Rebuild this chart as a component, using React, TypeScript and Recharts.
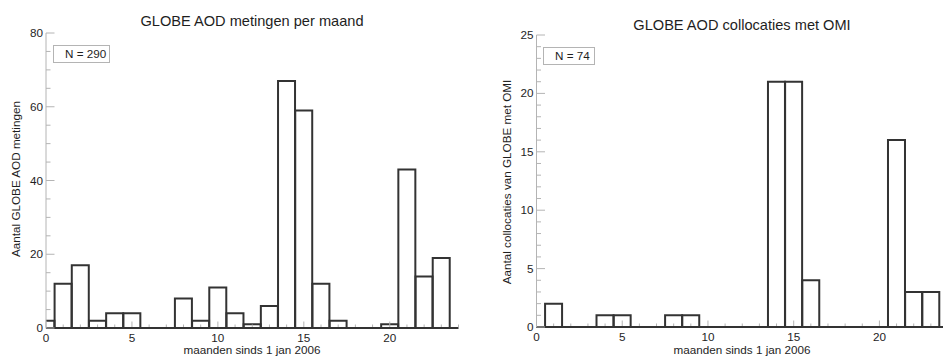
import { ComposedChart, Bar, XAxis, YAxis } from "recharts";

// maanden sinds 1 jan 2006 (bin centres)
const months = [0, 1, 2, 3, 4, 5, 6, 7, 8, 9, 10, 11, 12, 13, 14, 15, 16, 17, 18, 19, 20, 21, 22, 23];

// GLOBE AOD metingen per maand
const metingen = [2, 12, 17, 2, 4, 4, 0, 0, 8, 2, 11, 4, 1, 6, 67, 59, 12, 2, 0, 0, 1, 43, 14, 19];

// GLOBE AOD collocaties met OMI
const collocaties = [0, 2, 0, 0, 1, 1, 0, 0, 1, 1, 0, 0, 0, 0, 21, 21, 4, 0, 0, 0, 0, 16, 3, 3];

const xTicks = [0, 1, 2, 3, 4, 5, 6, 7, 8, 9, 10, 11, 12, 13, 14, 15, 16, 17, 18, 19, 20, 21, 22, 23, 24];
const xLabels = [0, 5, 10, 15, 20];
const xDomain = [0, 24];

const yTicksMetingen = [0, 5, 10, 15, 20, 25, 30, 35, 40, 45, 50, 55, 60, 65, 70, 75, 80];
const yLabelsMetingen = [0, 20, 40, 60, 80];

const yTicksColloc = [0, 1, 2, 3, 4, 5, 6, 7, 8, 9, 10, 11, 12, 13, 14, 15, 16, 17, 18, 19, 20, 21, 22, 23, 24, 25];
const yLabelsColloc = [0, 5, 10, 15, 20, 25];

const FONT = '"Liberation Sans", Arial, Helvetica, sans-serif';
const FRAME = "#b4b4b4";
const INK = "#1e1e1e";
const BAR = "#333333";
const FS = 11.7;

const bottomTick = (labels: number[]) => (p: any) => {
  const v = p.payload.value;
  const big = labels.includes(v);
  return (
    <g>
      <line x1={p.x} x2={p.x} y1={p.y - 1} y2={p.y - (big ? 6.5 : 3.5)} stroke={FRAME} />
      {big && (
        <text x={p.x} y={p.y + 13.5} textAnchor="middle" fontSize={FS} fill={INK} fontFamily={FONT}>
          {v}
        </text>
      )}
    </g>
  );
};

const topTick = (labels: number[]) => (p: any) => {
  const big = labels.includes(p.payload.value);
  return <line x1={p.x} x2={p.x} y1={p.y} y2={p.y + (big ? 6.5 : 3.5)} stroke={FRAME} />;
};

const leftTick = (labels: number[]) => (p: any) => {
  const v = p.payload.value;
  const big = labels.includes(v);
  return (
    <g>
      <line x1={p.x} x2={p.x + (big ? 8.5 : 4.5)} y1={p.y} y2={p.y} stroke={FRAME} />
      {big && (
        <text x={p.x - 3} y={p.y} dy="0.35em" textAnchor="end" fontSize={FS} fill={INK} fontFamily={FONT}>
          {v}
        </text>
      )}
    </g>
  );
};

const rightTick = (labels: number[]) => (p: any) => {
  const big = labels.includes(p.payload.value);
  return <line x1={p.x} x2={p.x - (big ? 8.5 : 4.5)} y1={p.y} y2={p.y} stroke={FRAME} />;
};

// bin outline; the first bin starts at the left edge of the axis (bin centre = domain start)
const HistBar = (p: any) => {
  const { x, y, width, height, payload } = p;
  if (x == null || y == null) return null;
  const cut = payload && payload.m === xDomain[0];
  const left = cut ? x + width / 2 : x;
  const right = x + width;
  const base = y + height;
  const d = cut
    ? `M${left},${y}H${right}V${base}H${left}`
    : `M${left},${base}V${y}H${right}V${base}Z`;
  return <path d={d} fill="none" stroke={BAR} strokeWidth={2} />;
};

type HistProps = {
  values: number[];
  width: number;
  top: number;
  right: number;
  yAxisW: number;
  xAxisH: number;
  yMax: number;
  yTicks: number[];
  yLabels: number[];
};

function Histogram({ values, width, top, right, yAxisW, xAxisH, yMax, yTicks, yLabels }: HistProps) {
  const data = months.map((m, i) => ({ m, n: values[i] }));
  return (
    <ComposedChart
      width={width}
      height={358}
      data={data}
      margin={{ top, right, left: 0, bottom: 0 }}
      barCategoryGap={0}
      barGap={0}
    >
      <XAxis
        xAxisId="b"
        dataKey="m"
        type="number"
        domain={xDomain}
        ticks={xTicks}
        interval={0}
        height={xAxisH}
        tickSize={0}
        tickMargin={0}
        tickLine={false}
        axisLine={{ stroke: BAR, strokeWidth: 2 }}
        tick={bottomTick(xLabels)}
      />
      <XAxis
        xAxisId="t"
        orientation="top"
        type="number"
        domain={xDomain}
        allowDataOverflow
        ticks={xTicks}
        interval={0}
        height={0}
        tickSize={0}
        tickMargin={0}
        tickLine={false}
        axisLine={{ stroke: FRAME }}
        tick={topTick(xLabels)}
      />
      <YAxis
        yAxisId="l"
        type="number"
        domain={[0, yMax]}
        ticks={yTicks}
        interval={0}
        width={yAxisW}
        tickSize={0}
        tickMargin={0}
        tickLine={false}
        axisLine={{ stroke: FRAME }}
        tick={leftTick(yLabels)}
      />
      <YAxis
        yAxisId="r"
        orientation="right"
        type="number"
        domain={[0, yMax]}
        allowDataOverflow
        ticks={yTicks}
        interval={0}
        width={0}
        tickSize={0}
        tickMargin={0}
        tickLine={false}
        axisLine={{ stroke: FRAME }}
        tick={rightTick(yLabels)}
      />
      <Bar
        xAxisId="b"
        yAxisId="l"
        dataKey="n"
        shape={HistBar}
        minPointSize={0.01}
        isAnimationActive={false}
      />
    </ComposedChart>
  );
}

const sum = (a: number[]) => a.reduce((s, v) => s + v, 0);

export default function App() {
  const txt = { fontFamily: FONT, fill: INK };
  return (
    <div style={{ position: "absolute", left: 0, top: 0, width: 943, height: 358, overflow: "hidden", background: "#fff" }}>
      <div style={{ position: "absolute", left: 0, top: 0 }}>
        <Histogram
          values={metingen}
          width={470}
          top={33}
          right={11.5}
          yAxisW={46}
          xAxisH={30}
          yMax={80}
          yTicks={yTicksMetingen}
          yLabels={yLabelsMetingen}
        />
      </div>
      <div style={{ position: "absolute", left: 470, top: 0 }}>
        <Histogram
          values={collocaties}
          width={480}
          top={35}
          right={2}
          yAxisW={66.5}
          xAxisH={31}
          yMax={25}
          yTicks={yTicksColloc}
          yLabels={yLabelsColloc}
        />
      </div>
      <svg width={943} height={358} style={{ position: "absolute", left: 0, top: 0, pointerEvents: "none" }}>
        <text x={252} y={26} textAnchor="middle" fontSize={14.6} {...txt}>GLOBE AOD metingen per maand</text>
        <text x={742} y={29.5} textAnchor="middle" fontSize={14.6} {...txt}>GLOBE AOD collocaties met OMI</text>

        <text x={252} y={354} textAnchor="middle" fontSize={FS} {...txt}>maanden sinds 1 jan 2006</text>
        <text x={742} y={354} textAnchor="middle" fontSize={FS} {...txt}>maanden sinds 1 jan 2006</text>

        <text transform="translate(19.5,179) rotate(-90)" textAnchor="middle" fontSize={FS} {...txt}>Aantal GLOBE AOD metingen</text>
        <text transform="translate(511,182) rotate(-90)" textAnchor="middle" fontSize={FS} {...txt}>Aantal collocaties van GLOBE met OMI</text>

        <rect x={53.5} y={45.5} width={56} height={17} fill="#fff" stroke={FRAME} />
        <text x={65} y={58} fontSize={FS} {...txt}>{`N = ${sum(metingen)}`}</text>
        <rect x={543.5} y={47.5} width={51} height={17} fill="#fff" stroke={FRAME} />
        <text x={555} y={60} fontSize={FS} {...txt}>{`N = ${sum(collocaties)}`}</text>
      </svg>
    </div>
  );
}
